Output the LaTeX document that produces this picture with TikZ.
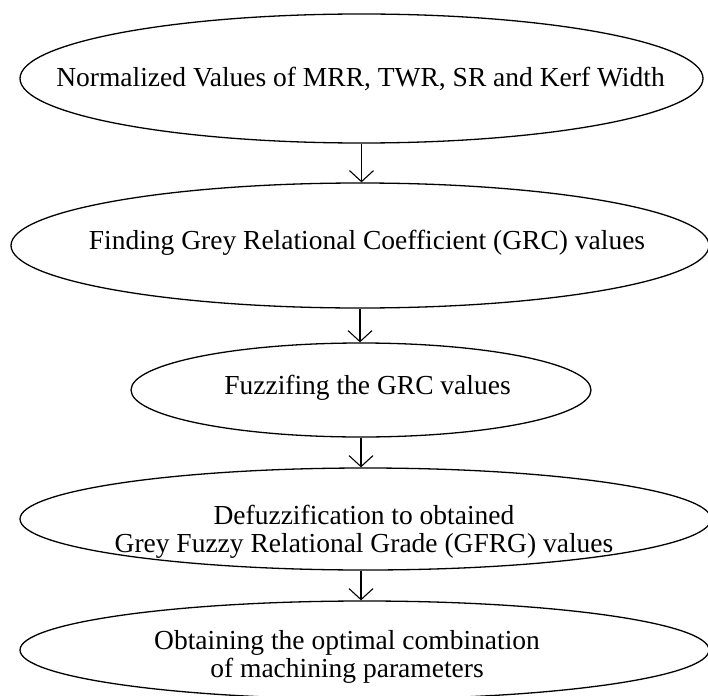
\documentclass[tikz,border=0pt]{standalone}
\usepackage{fontspec}
\setmainfont{Liberation Serif}
\usetikzlibrary{shapes.geometric,arrows.meta}
\begin{document}
\begin{tikzpicture}[x=1pt,y=-1pt,
  oval/.style={draw=black,line width=1.3pt,ellipse,inner sep=0pt},
  txt/.style={inner sep=0pt,align=center,font=\fontsize{27.5}{28}\selectfont},
  arr/.style={line width=1.3pt,-{Straight Barb[length=11pt,width=24pt,line width=1.1pt]}}]
\useasboundingbox (0,0) rectangle (708,695);
\node[oval,minimum width=683pt,minimum height=129pt] (e1) at (361.5,78.5) {};
\node[oval,minimum width=698pt,minimum height=125pt] (e2) at (360,245.5) {};
\node[oval,minimum width=460pt,minimum height=94pt] (e3) at (361,390) {};
\node[oval,minimum width=691pt,minimum height=102pt] (e4) at (365.5,519) {};
\node[oval,minimum width=689pt,minimum height=98pt] (e5) at (364.5,650) {};
\node[txt] (t1) at (360.5,79) {Normalized Values of MRR, TWR, SR and Kerf Width};
\node[txt] (t2) at (367,243) {Finding Grey Relational Coefficient (GRC) values};
\node[txt] (t3) at (367.5,388) {Fuzzifing the GRC values};
\node[txt] (t4) at (364,532) {Defuzzification to obtained\\Grey Fuzzy Relational Grade (GFRG) values};
\node[txt] (t5) at (347,657) {Obtaining the optimal combination\\of machining parameters};
\draw[arr] (e1.south) -- (e1.south |- e2.north);
\draw[arr] (e2.south) -- (e2.south |- e3.north);
\draw[arr] (e3.south) -- (e3.south |- e4.north);
\draw[arr] (e4.south -| e3.south) -- (e3.south |- e5.north);
\end{tikzpicture}
\end{document}
